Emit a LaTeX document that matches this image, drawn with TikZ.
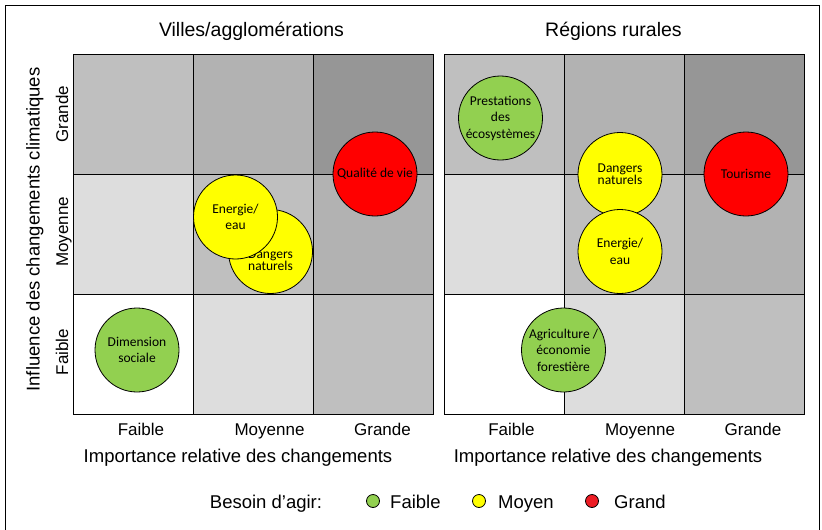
\documentclass[tikz,border=0pt]{standalone}
\usepackage{fontspec}
\setmainfont{Liberation Sans}
\newfontfamily\bubblefont{Carlito}
\usepackage{tikz}
\definecolor{lvl0}{HTML}{FFFFFF}
\definecolor{lvl1}{HTML}{DDDDDD}
\definecolor{lvl2}{HTML}{BFBFBF}
\definecolor{lvl3}{HTML}{B2B2B2}
\definecolor{lvl4}{HTML}{969696}
\definecolor{needLow}{HTML}{92D050}
\definecolor{needMid}{HTML}{FFFF00}
\definecolor{needHigh}{HTML}{FF0000}
\definecolor{keyHigh}{HTML}{ED1C24}
\tikzset{
  gridline/.style={line width=1pt},
  bubble/.style={circle, draw, line width=0.8pt, minimum size=84pt, inner sep=0pt,
    align=center, font=\bubblefont\fontsize{13.5}{16.5}\selectfont},
  bubbletext/.style={align=center, inner sep=0pt, font=\bubblefont\fontsize{13.5}{16.5}\selectfont},
  keydot/.style={circle, draw, line width=0.8pt, minimum size=13pt, inner sep=0pt},
  paneltitle/.style={anchor=base, inner sep=0pt, font=\fontsize{19.5}{23}\selectfont},
  axistitle/.style={anchor=base, inner sep=0pt, font=\fontsize{18.5}{22}\selectfont},
  ticklabel/.style={anchor=base, inner sep=0pt, font=\fontsize{17}{20}\selectfont},
}

\begin{document}
\begin{tikzpicture}[x=1pt, y=-1pt]
    \useasboundingbox (0,0) rectangle (822,530);
    % frame
    \draw[line width=1.8pt] (5.5,535) |- (819.5,5.5) -- (819.5,535);
    % the two 3x3 grids
    \foreach \px in {73,444}{
      \foreach \c in {0,1,2}{
        \foreach \r in {0,1,2}{
          \pgfmathtruncatemacro\lvl{\c+\r}
          \fill[lvl\lvl] (\px+120*\c, 414-120*\r) rectangle ++(120,-120);
        }
      }
      \draw[gridline] (\px,54) rectangle ++(360,360);
      \foreach \k in {1,2}{
        \draw[gridline] (\px+120*\k,54) -- ++(0,360);
        \draw[gridline] (\px,54+120*\k) -- ++(360,0);
      }
    }
    \node[paneltitle](titleV)at(251.5,36){Villes/agglomérations};
    \node[paneltitle](titleR)at(613.5,36){Régions rurales};
    % axes
    \node[axistitle, rotate=90](influence)at(39.5,229.5){Influence des changements climatiques};
    \node[ticklabel, rotate=90](rowHigh)at(68,114){Grande};
    \node[ticklabel, rotate=90](rowMid)at(68,232){Moyenne};
    \node[ticklabel, rotate=90](rowLow)at(68,352){Faible};
    \node[ticklabel](colLowV)at(141,435){Faible};
    \node[ticklabel](colMidV)at(269.5,435){Moyenne};
    \node[ticklabel](colHighV)at(382.5,435){Grande};
    \node[ticklabel](colLowR)at(511.5,435){Faible};
    \node[ticklabel](colMidR)at(640,435){Moyenne};
    \node[ticklabel](colHighR)at(753,435){Grande};
    \node[axistitle](importV)at(238,462){Importance relative des changements};
    \node[axistitle](importR)at(608,462){Importance relative des changements};
    % bubbles, cities
    \node[bubble, fill=needHigh](qualite)at(375,174){Qualité de vie};
    \node[bubble, fill=needMid](dangersV)at(270.5,251.5){};
    \node[bubbletext](dangersVtxt)at([yshift=-9pt]dangersV.center){Dangers\\[-4.5pt]naturels};
    \node[bubble, fill=needMid](energieV)at(235.5,217){Energie/\\eau};
    \node[bubble, fill=needLow](social)at(137,350){Dimension\\sociale};
    % bubbles, rural regions
    \node[bubble, fill=needLow](ecosys)at(500.5,118){Prestations\\des\\écosystèmes};
    \node[bubble, fill=needMid](dangersR)at(620,174.5){Dangers\\[-4.5pt]naturels};
    \node[bubble, fill=needMid](energieR)at(620,251.5){Energie/\\eau};
    \node[bubble, fill=needHigh](tourisme)at(746,174){Tourisme};
    \node[bubble, fill=needLow](agri)at(563.5,350){Agriculture /\\économie\\forestière};
    % key
    \node[axistitle](besoin)at(266,508){Besoin d’agir:};
    \node[keydot, fill=needLow](keyLow)at(373,501){};
    \node[keydot, fill=needMid](keyMid)at(479,501){};
    \node[keydot, fill=keyHigh](keyHigh)at(592,501){};
    \node[axistitle, anchor=base west](keyLowTxt)at(390,508){Faible};
    \node[axistitle, anchor=base west](keyMidTxt)at(498,508){Moyen};
    \node[axistitle, anchor=base west](keyHighTxt)at(614,508){Grand};
\end{tikzpicture}
\end{document}
